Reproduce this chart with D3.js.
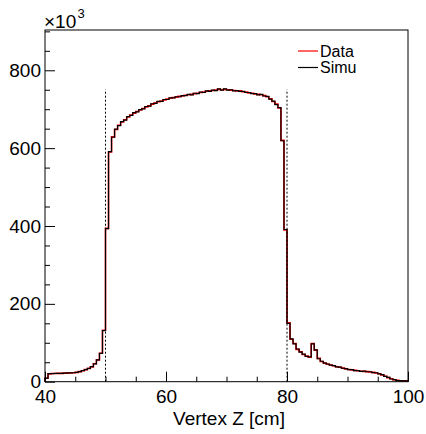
<!DOCTYPE html>
<html>
<head>
<meta charset="utf-8">
<script src="https://cdn.jsdelivr.net/npm/d3@7"></script>
<style>
  html, body { margin: 0; padding: 0; background: #fff; }
  svg { display: block; font-family: "Liberation Sans", Arial, Helvetica, sans-serif; }
</style>
</head>
<body>
<svg id="chart" width="426" height="434"></svg>
<script>
// ---- data (counts in units of 10^3), 0.5 cm bins from 40 to 100 cm ----
const binStart = 40, binWidth = 0.5;
const dataCounts = [
  9, 20, 21, 21, 21.5, 21.5, 22, 22, 22.5, 23,
  24, 26, 28, 31, 34, 38, 46, 56, 73, 132,
  394, 590, 629, 648, 659, 667, 673, 680, 685, 690,
  694, 698, 702, 706, 709, 713, 716, 719, 721, 724,
  726, 728, 730, 731, 733, 734, 736, 737, 738, 740,
  741, 743, 744, 746, 747, 748, 749, 751, 750, 751,
  750, 749, 748, 747, 747, 745, 744, 742, 741, 739,
  738, 737, 735, 732, 727, 720, 713, 703, 620, 390,
  151, 109, 98, 83, 77, 70, 66, 63, 98, 81,
  60, 52, 48, 45, 43, 41, 38.5, 37, 35, 33,
  31.5, 30.5, 29, 28, 27, 26.5, 26, 25, 24, 22.5,
  20.5, 17.5, 14, 10.5, 7.5, 5, 3.5, 2.5, 2, 2
];
const simuCounts = [
  9, 20.5, 21, 21.5, 21.5, 21.5, 22, 22.5, 22.5, 23,
  24, 26, 28.5, 31, 34, 38.5, 46, 56, 73, 131,
  393, 591, 628, 649, 658, 668, 672, 681, 684, 691,
  693, 699, 701, 707, 708, 714, 715, 720, 720, 725,
  725, 729, 729, 732, 732, 735, 735, 738, 737, 741,
  740, 744, 743, 747, 746, 749, 748, 752, 749, 752,
  749, 750, 747, 748, 746, 746, 743, 743, 740, 740,
  737, 738, 734, 733, 726, 721, 712, 704, 619, 391,
  150, 110, 97, 84, 76, 71, 65, 64, 97, 82,
  59, 52.5, 47.5, 45.5, 42.5, 41.5, 38, 37.5, 34.5, 33.5,
  31, 31, 28.5, 28.5, 26.5, 27, 25.5, 25.5, 23.5, 23,
  20, 18, 13.5, 11, 7, 5.5, 3, 3, 2, 2
];
const xMajorTicks = [40, 60, 80, 100];
const yMajorTicks = [0, 200, 400, 600, 800];
const cutPositions = [50, 80];
const cutHeight = 751;
const legendLabels = ["Data", "Simu"];
const seriesColors = ["#ff0000", "#000000"];
const xTitle = "Vertex Z [cm]";

// ---- layout ----
const svg = d3.select("#chart");
const L = 45, R = 408, T = 30, B = 381.7;
const x = d3.scaleLinear().domain([40, 100]).range([L, R]);
const y = d3.scaleLinear().domain([0, 903.5]).range([B, T]);
const font = 19;

function stepPath(counts) {
  const pts = [[x(binStart), y(0)]];
  counts.forEach((c, i) => {
    const x0 = binStart + i * binWidth, x1 = x0 + binWidth;
    pts.push([x(x0), y(c)], [x(x1), y(c)]);
  });
  pts.push([x(binStart + counts.length * binWidth), y(0)]);
  return d3.line()(pts);
}

// histograms
svg.append("path").attr("d", stepPath(dataCounts))
  .attr("fill", "none").attr("stroke", seriesColors[0]).attr("stroke-width", 1.6);
svg.append("path").attr("d", stepPath(simuCounts))
  .attr("fill", "none").attr("stroke", seriesColors[1]).attr("stroke-width", 1.2);

// cut lines
svg.selectAll("line.cut").data(cutPositions).enter().append("line")
  .attr("class", "cut")
  .attr("x1", d => x(d)).attr("x2", d => x(d))
  .attr("y1", y(0)).attr("y2", y(cutHeight))
  .attr("stroke", "#000").attr("stroke-width", 1)
  .attr("stroke-dasharray", "2,2");

// frame
svg.append("rect").attr("x", L).attr("y", T).attr("width", R - L).attr("height", B - T)
  .attr("fill", "none").attr("stroke", "#000").attr("stroke-width", 1);

// x axis: minor then major
const xMinor = d3.range(40, 100.01, 5).filter(v => !xMajorTicks.includes(v));
svg.append("g").attr("transform", `translate(0,${B})`)
  .call(d3.axisBottom(x).tickValues(xMinor).tickSizeInner(-5).tickSizeOuter(0).tickFormat(""))
  .call(g => g.select(".domain").remove());
const gx = svg.append("g").attr("transform", `translate(0,${B})`)
  .call(d3.axisBottom(x).tickValues(xMajorTicks).tickSizeInner(-10).tickSizeOuter(0).tickPadding(8).tickFormat(d3.format("d")));
gx.select(".domain").remove();
gx.selectAll("text").attr("font-size", font).attr("font-family", null).attr("fill", "#000");
gx.selectAll("line").attr("stroke", "#000");

// y axis: minor then major
const yMinor = d3.range(0, 900.01, 50).filter(v => !yMajorTicks.includes(v));
svg.append("g").attr("transform", `translate(${L},0)`)
  .call(d3.axisLeft(y).tickValues(yMinor).tickSizeInner(-5).tickSizeOuter(0).tickFormat(""))
  .call(g => g.select(".domain").remove());
const gy = svg.append("g").attr("transform", `translate(${L},0)`)
  .call(d3.axisLeft(y).tickValues(yMajorTicks).tickSizeInner(-10).tickSizeOuter(0).tickPadding(4).tickFormat(d3.format("d")));
gy.select(".domain").remove();
gy.selectAll("text").attr("font-size", font).attr("font-family", null).attr("fill", "#000");
gy.selectAll("line").attr("stroke", "#000");

// exponent label
svg.append("text").attr("x", 44).attr("y", 28).attr("font-size", font).text("\u00d710");
svg.append("text").attr("x", 77.5).attr("y", 18).attr("font-size", 13).text("3");

// x title
svg.append("text").attr("x", 229).attr("y", 425).attr("text-anchor", "middle")
  .attr("font-size", font).text(xTitle);

// legend
const leg = svg.append("g");
legendLabels.forEach((lab, i) => {
  const yy = 51 + i * 16.5;
  leg.append("line").attr("x1", 298).attr("x2", 318).attr("y1", yy).attr("y2", yy)
    .attr("stroke", seriesColors[i]).attr("stroke-width", 1.2);
  leg.append("text").attr("x", 320).attr("y", yy + 5.8).attr("font-size", 16).text(lab);
});
</script>
</body>
</html>
